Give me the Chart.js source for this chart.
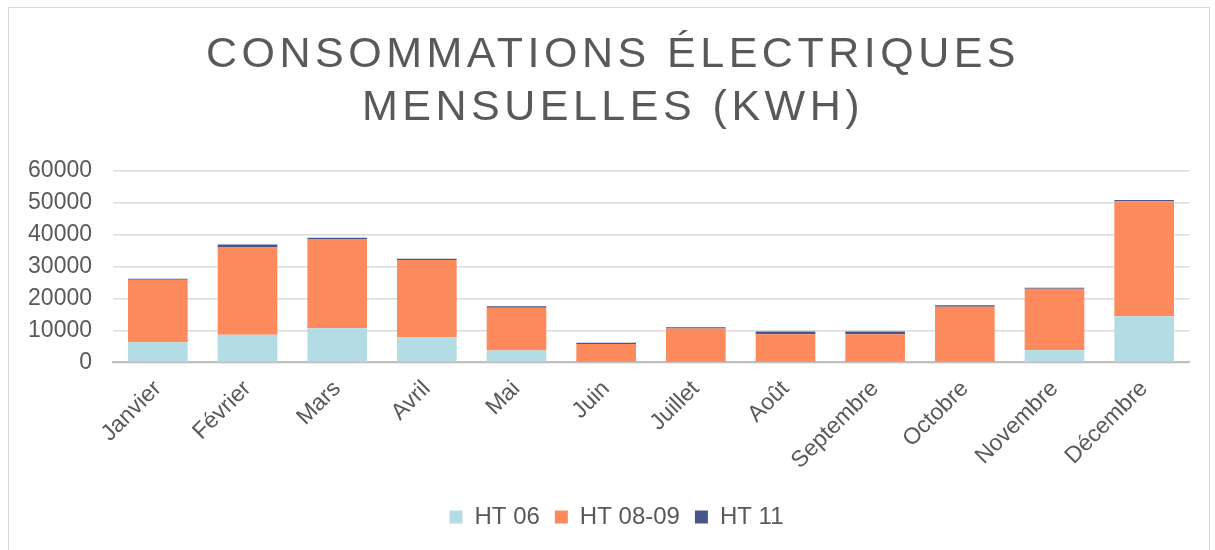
<!DOCTYPE html>
<html>
<head>
<meta charset="utf-8">
<script src="https://cdn.jsdelivr.net/npm/chart.js@4"></script>
<style>
  html, body { margin: 0; padding: 0; background: #fff; }
  #frame {
    position: absolute; left: 8px; top: 7px;
    width: 1200px; height: 560px;
    border: 1px solid #d9d9d9;
  }
  #wrap { position: absolute; left: 0; top: 0; width: 1215px; height: 550px; }
</style>
</head>
<body>
<div id="frame"></div>
<div id="wrap"><canvas id="chart"></canvas></div>
<script>
// monthly data
const months = ["Janvier", "Février", "Mars", "Avril", "Mai", "Juin", "Juillet", "Août", "Septembre", "Octobre", "Novembre", "Décembre"];
const ht06   = [6300, 8700, 10700, 7900, 3700, 0, 0, 0, 0, 0, 3800, 14500];
const ht0809 = [19600, 27500, 28000, 24200, 13400, 5800, 10600, 8800, 8800, 17450, 19300, 36000];
const ht11   = [300, 800, 400, 400, 500, 400, 400, 900, 900, 500, 300, 400];
const yTicks = [0, 10000, 20000, 30000, 40000, 50000, 60000];

const grey = "#595959";
const font = "'Liberation Sans', Arial, sans-serif";

// title is letter-spaced and title + legend sit centred on the page, not on the plot
function patchBox(box, dx, spacing) {
    if (!box || box._patched) return;
    const orig = box.draw;
    box.draw = function () {
        const ctx = this.ctx;
        ctx.save();
        ctx.translate(dx, 0);
        if (spacing) ctx.letterSpacing = spacing;
        orig.apply(this, arguments);
        ctx.restore();
    };
    box._patched = true;
}

const shiftBoxes = {
    id: "shiftBoxes",
    beforeDraw(chart) {
        patchBox(chart.titleBlock, 14.5, "4.5px");
        patchBox(chart.legend, 18, null);
    }
};

const canvas = document.getElementById("chart");

new Chart(canvas, {
    type: "bar",
    data: {
        labels: months,
        datasets: [
            { label: "HT 06", data: ht06, backgroundColor: "#b4dce4" },
            { label: "HT 08-09", data: ht0809, backgroundColor: "#fd8a5c" },
            { label: "HT 11", data: ht11, backgroundColor: "#49568a" }
        ]
    },
    plugins: [shiftBoxes],
    options: {
        responsive: true,
        maintainAspectRatio: false,
        animation: false,
        datasets: { bar: { categoryPercentage: 0.665, barPercentage: 1.0 } },
        layout: { padding: { left: 8, right: 26, top: 29, bottom: 11 } },
        plugins: {
            title: {
                display: true,
                text: ["CONSOMMATIONS ÉLECTRIQUES", "MENSUELLES (KWH)"],
                color: grey,
                font: { family: font, size: 43, weight: "normal", lineHeight: 1.233 },
                padding: { top: 0, bottom: 36 }
            },
            legend: {
                position: "bottom",
                labels: {
                    color: grey,
                    font: { family: font, size: 24 },
                    boxWidth: 13,
                    boxHeight: 13,
                    padding: 15
                }
            },
            tooltip: { enabled: false }
        },
        scales: {
            x: {
                stacked: true,
                afterFit: s => { s.height = 127.6; },
                grid: { display: false },
                border: { color: "#bfbfbf", width: 2 },
                ticks: {
                    color: grey,
                    font: { family: font, size: 23 },
                    padding: 5,
                    maxRotation: 45,
                    minRotation: 45
                }
            },
            y: {
                stacked: true,
                min: 0,
                max: 60000,
                afterFit: s => { s.width = 105; },
                afterBuildTicks: axis => { axis.ticks = yTicks.map(v => ({ value: v })); },
                grid: { color: "#dcdcdc", lineWidth: 1.5, drawTicks: false },
                border: { display: false },
                ticks: {
                    color: grey,
                    font: { family: font, size: 23 },
                    padding: 21,
                    callback: v => String(v)
                }
            }
        }
    }
});
</script>
</body>
</html>
